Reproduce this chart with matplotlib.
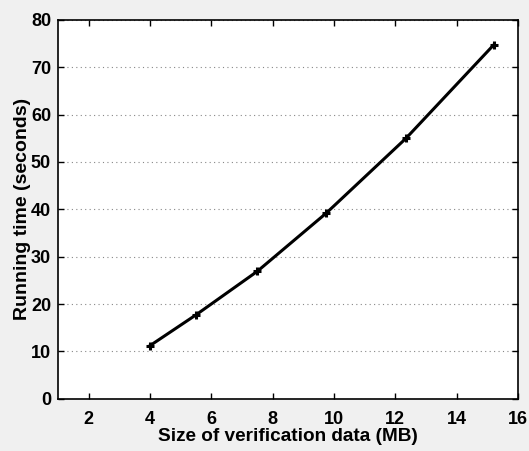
import matplotlib
matplotlib.use('Agg')
import matplotlib.pyplot as plt

# data
size_mb = [4.0, 5.5, 7.5, 9.75, 12.35, 15.22]
run_time = [11.2, 17.7, 26.9, 39.2, 55.0, 74.8]

plt.rcParams['font.family'] = ['Liberation Sans', 'DejaVu Sans']
plt.rcParams['font.weight'] = 'bold'

fig = plt.figure(figsize=(5.29, 4.51), dpi=100, facecolor='#f0f0f0')
ax = fig.add_axes([0.1096, 0.116, 0.8694, 0.8397])

ax.plot(size_mb, run_time, color='black', linewidth=2.2, marker='+',
        markersize=6, markeredgewidth=2.2)

ax.set_xlim(1, 16)
ax.set_ylim(0, 80)
ax.set_xticks(range(2, 17, 2))
ax.set_yticks(range(0, 81, 10))
ax.yaxis.grid(True, linestyle=(0, (1, 3)), color='#888888', linewidth=0.8)

ax.tick_params(direction='in', length=4, width=1, top=True, right=True,
               labelsize=13, pad=5)
ax.tick_params(axis='x', pad=9)
for s in ax.spines.values():
    s.set_linewidth(1.2)

ax.set_xlabel('Size of verification data (MB)', fontsize=13.7, fontweight='bold', labelpad=0)
ax.set_ylabel('Running time (seconds)', fontsize=14, fontweight='bold', labelpad=0)

fig.savefig('out.png', dpi=100, facecolor=fig.get_facecolor())
